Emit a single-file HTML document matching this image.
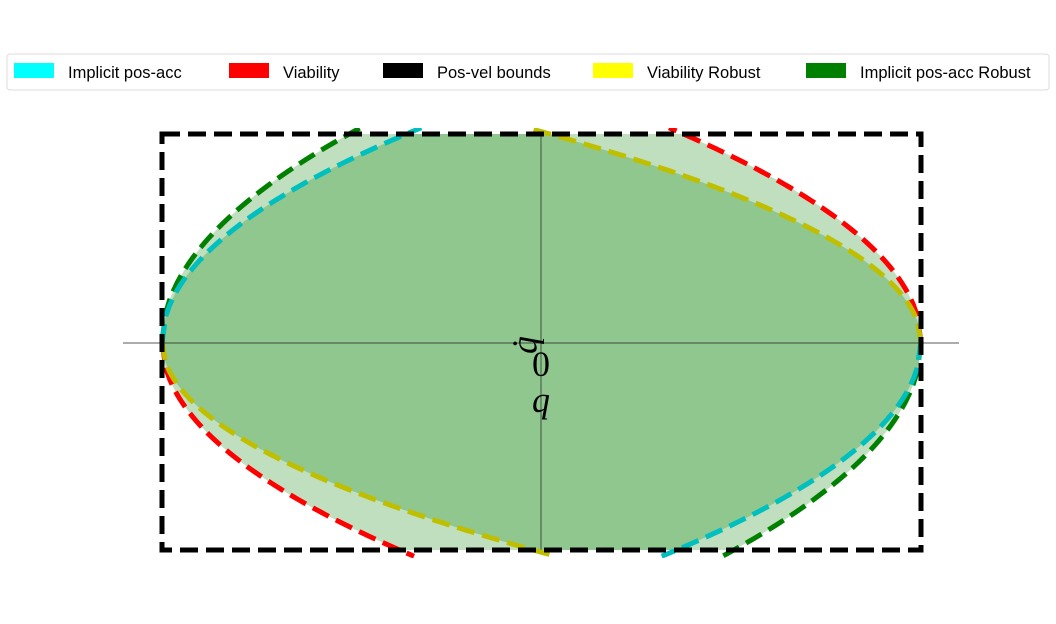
<!DOCTYPE html>
<html><head><meta charset="utf-8"><style>
html,body{margin:0;padding:0;background:#fff;}
svg{display:block;}
.leg{font-family:"Liberation Sans",sans-serif;font-size:16.5px;}
</style></head><body>
<svg id="chart" width="1056" height="624" viewBox="0 0 1056 624" xmlns="http://www.w3.org/2000/svg">
<defs><clipPath id="boxclip"><rect x="150" y="128" width="790" height="430"/></clipPath></defs>
<g id="fills"></g>
<g id="axes">
<line x1="123" y1="343" x2="959" y2="343" stroke="#222" stroke-width="0.7"/>
<line x1="541" y1="134" x2="541" y2="550" stroke="#222" stroke-width="0.7"/>
</g>
<g id="curves" clip-path="url(#boxclip)"></g>
<rect x="162" y="134" width="759" height="416" fill="none" stroke="#000" stroke-width="5" stroke-dasharray="18,8"/>
<text x="528" y="345" transform="rotate(-90 528 345)" text-anchor="middle" dominant-baseline="middle" font-family="Liberation Serif,serif" font-style="italic" font-size="36">q̇</text>
<text x="541" y="376" text-anchor="middle" font-family="Liberation Serif,serif" font-size="36">0</text>
<text x="541" y="412" text-anchor="middle" font-family="Liberation Serif,serif" font-style="italic" font-size="36">q</text>
<g id="legend">
<rect x="7" y="54" width="1042" height="36" rx="3" fill="#fff" stroke="#ddd" stroke-width="1"/>
</g>
</svg>
<script>
const seriesNames = ["Implicit pos-acc","Viability","Pos-vel bounds","Viability Robust","Implicit pos-acc Robust"];
const seriesColors = ["#00ffff","#ff0000","#000000","#ffff00","#008000"];
const kViability = [1.264];
const kViabilityRobust = [1.011];
const kImplicit = [1.246];
const kImplicitRobust = [1.424];
const qBounds = [-1, 1];
const qdotBounds = [-1, 1];

const X0=162,X1=921,Y0=550,Y1=134;
function sx(q){return X0+(q-qBounds[0])/(qBounds[1]-qBounds[0])*(X1-X0);}
function sy(v){return Y0-(v-qdotBounds[0])/(qdotBounds[1]-qdotBounds[0])*(Y0-Y1);}
const NS="http://www.w3.org/2000/svg";
const N=200;
const LIM=1.03;
function curvePts(k,type){
  const pts=[];
  for(let i=0;i<=N;i++){
    const d=2*i/N;
    let q,v;
    const val=k*Math.sqrt(d);
    if(val>LIM && pts.length>0){
      const dl=Math.pow(LIM/k,2);
      if(type==="ur"){q=1-dl;v=LIM;} else if(type==="ll"){q=-1+dl;v=-LIM;}
      else if(type==="ul"){q=-1+dl;v=LIM;} else {q=1-dl;v=-LIM;}
      pts.push([sx(q),sy(v)]);break;
    }
    if(type==="ur"){q=1-d;v=val;} else if(type==="ll"){q=-1+d;v=-val;}
    else if(type==="ul"){q=-1+d;v=val;} else {q=1-d;v=-val;}
    pts.push([sx(q),sy(v)]);
  }
  return pts;
}
function upperBound(q,kl,kr){ return Math.min(kl*Math.sqrt(Math.max(0,1+q)),kr*Math.sqrt(Math.max(0,1-q)),qdotBounds[1]);}
function lowerBound(q,kl,kr){ return Math.max(-kl*Math.sqrt(Math.max(0,1+q)),-kr*Math.sqrt(Math.max(0,1-q)),qdotBounds[0]);}
function regionPath(kUL,kUR,kLL,kLR){
  let d="";
  for(let i=0;i<=400;i++){const q=-1+2*i/400;
    d+=(i?"L":"M")+sx(q).toFixed(2)+","+sy(upperBound(q,kUL,kUR)).toFixed(2);}
  for(let i=400;i>=0;i--){const q=-1+2*i/400;
    d+="L"+sx(q).toFixed(2)+","+sy(lowerBound(q,kLL,kLR)).toFixed(2);}
  return d+"Z";
}
const fills=document.getElementById("fills");
const outer=document.createElementNS(NS,"path");
outer.setAttribute("d",regionPath(kImplicitRobust[0],kViability[0],kViability[0],kImplicitRobust[0]));
outer.setAttribute("fill","rgba(0,128,0,0.25)");


fills.appendChild(outer);
const inner=document.createElementNS(NS,"path");
inner.setAttribute("d",regionPath(kImplicit[0],kViabilityRobust[0],kViabilityRobust[0],kImplicit[0]));
inner.setAttribute("fill","rgba(0,128,0,0.25)");


fills.appendChild(inner);

const curves=document.getElementById("curves");
function drawCurve(pts,color,name){
  const p=document.createElementNS(NS,"path");
  p.setAttribute("d","M"+pts.map(a=>a[0].toFixed(2)+","+a[1].toFixed(2)).join("L"));
  p.setAttribute("fill","none");p.setAttribute("stroke",color);
  p.setAttribute("stroke-width","5");p.setAttribute("stroke-dasharray","18,8");
  
  
  curves.appendChild(p);
}
drawCurve(curvePts(kViability[0],"ur"),"#ff0000","viability-upper");
drawCurve(curvePts(kViability[0],"ll"),"#ff0000","viability-lower");
drawCurve(curvePts(kViabilityRobust[0],"ur"),"#bfbf00","viability-robust-upper");
drawCurve(curvePts(kViabilityRobust[0],"ll"),"#bfbf00","viability-robust-lower");
drawCurve(curvePts(kImplicitRobust[0],"ul"),"#008000","implicit-robust-upper");
drawCurve(curvePts(kImplicitRobust[0],"lr"),"#008000","implicit-robust-lower");
drawCurve(curvePts(kImplicit[0],"ul"),"#00bfbf","implicit-upper");
drawCurve(curvePts(kImplicit[0],"lr"),"#00bfbf","implicit-lower");

const legend=document.getElementById("legend");
const legX=[14,229,383,593,806];
for(let i=0;i<seriesNames.length;i++){
  const g=document.createElementNS(NS,"g");
  
  
  const r=document.createElementNS(NS,"rect");
  r.setAttribute("x",legX[i]);r.setAttribute("y",63);r.setAttribute("width",40);r.setAttribute("height",15);
  r.setAttribute("fill",seriesColors[i]);
  
  
  const t=document.createElementNS(NS,"text");
  t.setAttribute("x",legX[i]+54);t.setAttribute("y",78);t.setAttribute("class","leg");
  t.textContent=seriesNames[i];
  
  
  g.appendChild(r);g.appendChild(t);legend.appendChild(g);
}
</script>
</body></html>
